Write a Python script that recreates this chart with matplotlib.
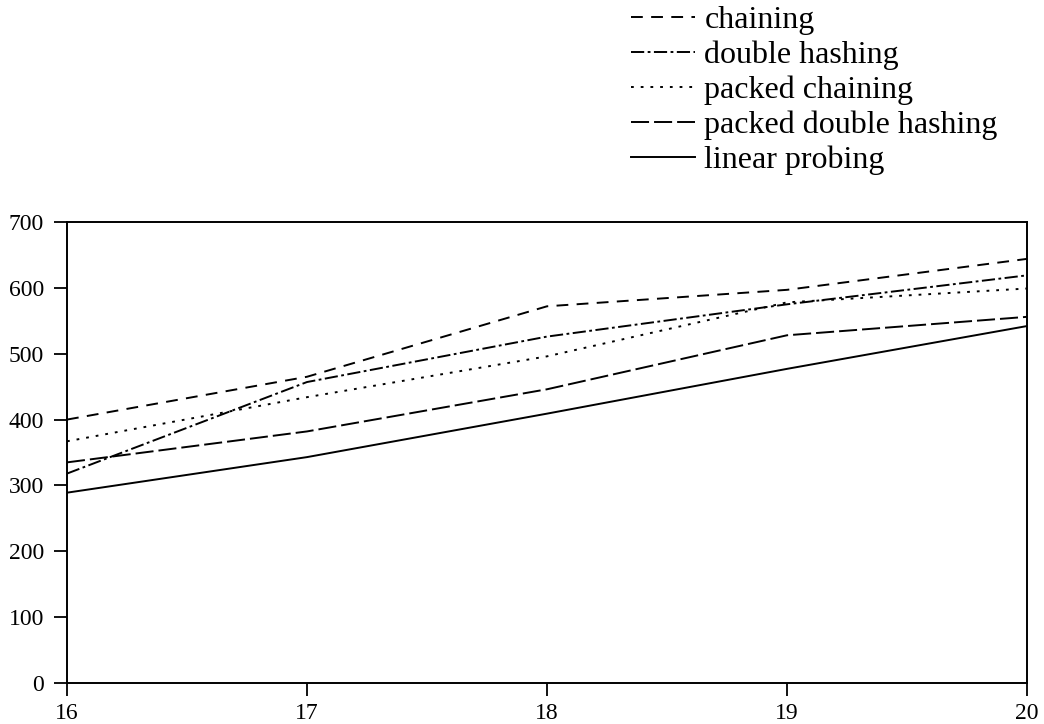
import matplotlib
matplotlib.use("Agg")
import matplotlib.pyplot as plt

plt.rcParams['font.family'] = ['Liberation Serif', 'DejaVu Serif']
plt.rcParams['lines.scale_dashes'] = False

x_vals = [16, 17, 18, 19, 20]
chaining = [400, 465, 572, 597, 644]
double_hashing = [318, 457, 526, 575, 619]
packed_chaining = [367, 434, 496, 578, 599]
packed_double_hashing = [335, 382, 446, 528, 556]
linear_probing = [289, 343, 409, 477, 542]

series_names = ["chaining", "double hashing", "packed chaining",
                "packed double hashing", "linear probing"]
y_ticks = [0, 100, 200, 300, 400, 500, 600, 700]

fig = plt.figure(figsize=(10.44, 7.24), dpi=100)
ax = fig.add_axes([67/1044, 41/724, 960/1044, 461/724])

lw = 1.4
styles = [
    (0, (8.5, 6)),
    (0, (9.5, 2.5, 2, 2.5)),
    (0, (2, 5)),
    (0, (13, 3.6)),
    '-',
]
data = [chaining, double_hashing, packed_chaining, packed_double_hashing, linear_probing]
handles = []
for name, ys, ls in zip(series_names, data, styles):
    h, = ax.plot(x_vals, ys, color='black', linewidth=lw, linestyle=ls, label=name)
    handles.append(h)

ax.set_xlim(16, 20)
ax.set_ylim(0, 700)
ax.set_xticks(x_vals)
ax.set_yticks(y_ticks)
ax.tick_params(direction='out', length=9.5, width=1.3, labelsize=17, colors='black')
ax.tick_params(axis='y', pad=7)
ax.tick_params(axis='x', pad=5)
for s in ax.spines.values():
    s.set_linewidth(1.4)

fig.legend(handles=handles, labels=series_names, loc='upper left',
           bbox_to_anchor=(631/1044, 1.0 - 6/724), frameon=False, fontsize=23,
           handlelength=2.0, handletextpad=0.3, labelspacing=0.17,
           borderpad=0, borderaxespad=0)

fig.savefig("out.png", dpi=100)
